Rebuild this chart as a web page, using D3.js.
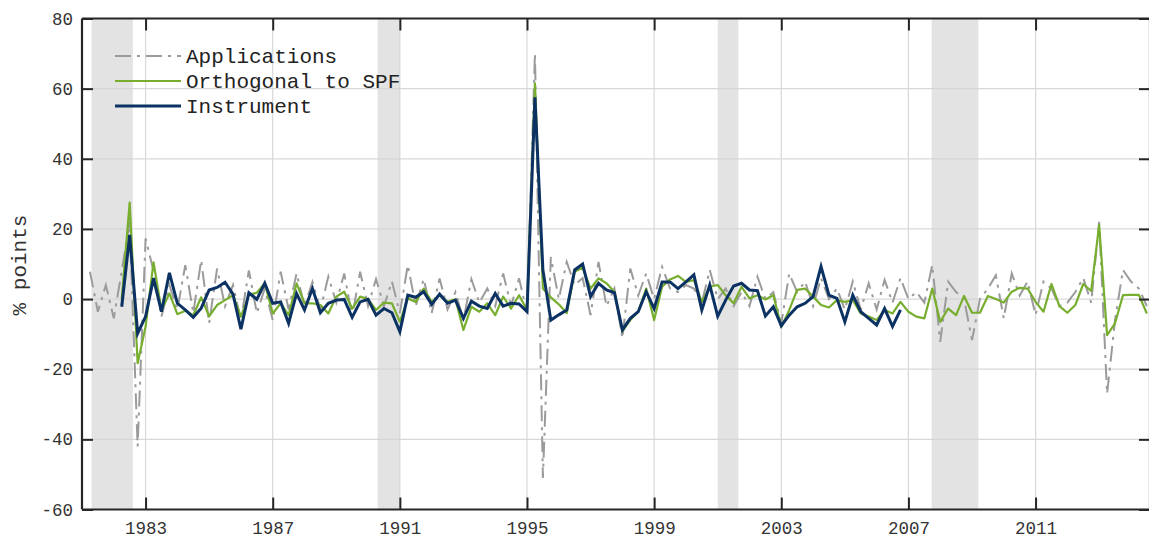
<!DOCTYPE html>
<html><head><meta charset="utf-8">
<script src="https://cdn.jsdelivr.net/npm/d3@7"></script>
<style>body{margin:0;background:#fff}svg{display:block}</style>
</head><body>
<svg id="chart" width="1149" height="536"></svg>
<script>
// ---- data (quarterly, first value at the given start year fraction) ----
const applicationsStart = 1981.25;
const applications = [7.8,-3.6,4,-5.5,8,22,-42,17.3,8,-5,4,-3,9.7,-4,11.1,-6.9,8.7,-2,4,-6,8.2,-4,3,-6,7.8,-3,7.3,-2,4.9,-3,6.4,-1,7.3,-5,7.8,-2,5.7,-2,5.0,-4,9.7,-2,5.7,-4,5.9,-3,2,-6,5.7,-1,3,-2,7.3,-2,5.9,-4,70,-51,12,0,10.6,4,6,-4.6,10.6,-2,3,-11.2,8.7,1,7.3,0,9.2,3,2,4,3,-1,8.3,0,3,-2,2,-2,6.4,0,2,-7,7.3,2,5,-2,6,0,3,-3,5,-3,4.5,-3,5.5,-1,6,0,2,-1,9.7,-12.2,5,2,0,-11.7,0,3,6.8,-5.5,7.3,1,5,-4.5,5,3,-2,-1,2,6,-1,22,-27,-6,8.3,5,3,-2];
const orthogonalStart = 1982.25;
const orthogonal = [0,27.5,-18.3,-7.9,10.5,-3.1,1.6,-4.3,-3.3,-4.6,0.5,-4.9,-1.7,-0.3,1.1,-5.0,1.2,1.8,4.5,-4.1,-1.2,-4.6,4.5,-1.2,-1.2,-1.7,-4.1,0.7,2.1,-2.7,0.7,0,-3.1,-1,-1.2,-6.5,0.2,-0.8,3,-0.8,1.1,-0.8,-0.1,-8.8,-2.2,-3.6,-1.2,-4.6,0.7,-2.7,1.1,-3.1,61.5,3,0.5,-1.5,-4,7.8,9,3,5.9,4.5,2.1,-9.2,-6,-3.6,3,-6,3.5,5.6,6.6,4.9,5.4,-0.8,3.5,4,1.1,-1.2,3.5,0.2,1.1,-0.1,1.1,-8,-3.1,2.6,3,0.7,-1.7,-2.4,-0.3,-0.8,-0.3,-4.1,-5,-6,-3.1,-4.1,-0.8,-3.6,-5,-5.5,3,-6.5,-2.7,-4.6,0.9,-3.9,-3.9,0.9,0,-1,2.1,3.2,3,-0.8,-3.6,4.3,-2,-3.9,-1.7,4.3,2.3,21.1,-10.3,-6.9,1.1,1.2,1.2,-4.1];
const instrumentStart = 1982.25;
const instrument = [-2.2,18.3,-9.8,-5.0,5.9,-3.6,7.5,-1.2,-3.1,-5.2,-2.6,2.6,3.3,4.8,1.4,-8.6,1.8,-0.1,4.5,-1.2,-0.8,-6.9,1.6,-3.1,3.0,-3.9,-1.2,-0.3,-0.1,-5.2,-0.8,-0.1,-4.6,-2.7,-3.9,-9.3,1.1,0.5,2.1,-1.5,1.4,-1.2,-0.3,-5.5,-0.6,-2,-2.7,1.6,-2,-1.2,-1.4,-3.6,57.5,8.3,-6,-4.5,-3.1,8.3,10,0.7,4.5,2.6,1.8,-8.8,-5.5,-3.6,2.1,-2.7,4.9,4.9,3.0,4.9,6.9,-3.1,4,-4.9,-0.3,3.7,4.5,2.6,2.4,-4.8,-2.2,-7.6,-4.6,-2.2,-1.2,0.7,9.3,1.1,0.2,-6.5,1.1,-3.6,-5.5,-7.4,-2.7,-7.8,-3.1];
const recessions = [[1981.3,1982.6],[1990.3,1991.0],[2001.0,2001.65],[2007.73,2009.2]];
const xTicks = [1983,1987,1991,1995,1999,2003,2007,2011];
const yTicks = [-60,-40,-20,0,20,40,60,80];
const seriesNames = ["Applications","Orthogonal to SPF","Instrument"];

const toPts = (start, arr) => arr.map((v,i)=>({t:start+i/4, v}));

const svg = d3.select("#chart");
const L=82, R=1150, T=18.5, B=509.5;
const x = d3.scaleLinear().domain([1981,2014.6]).range([L,R]);
const y = d3.scaleLinear().domain([-60,80]).range([B,T]);
const font = "'Liberation Mono','DejaVu Sans Mono',monospace";

// recession shading
svg.append("g").selectAll("rect").data(recessions).join("rect")
  .attr("x",d=>x(d[0])).attr("width",d=>x(d[1])-x(d[0]))
  .attr("y",T).attr("height",B-T).attr("fill","#e3e3e3");

// grid
const grid = svg.append("g").attr("stroke","#d4d4d4").attr("stroke-width",1.2).attr("opacity",0.9);
grid.selectAll(".gx").data(xTicks).join("line").attr("x1",d=>x(d)).attr("x2",d=>x(d)).attr("y1",T).attr("y2",B);
grid.selectAll(".gy").data(yTicks).join("line").attr("x1",L).attr("x2",R).attr("y1",d=>y(d)).attr("y2",d=>y(d));

// lines
const line = d3.line().x(d=>x(d.t)).y(d=>y(d.v));
svg.append("path").datum(toPts(applicationsStart,applications)).attr("d",line)
  .attr("fill","none").attr("stroke","#9b9b9b").attr("stroke-width",2).attr("stroke-dasharray","16,6,3,6");
svg.append("path").datum(toPts(orthogonalStart,orthogonal)).attr("d",line)
  .attr("fill","none").attr("stroke","#78ae2f").attr("stroke-width",2.2).attr("stroke-linejoin","round");
svg.append("path").datum(toPts(instrumentStart,instrument)).attr("d",line)
  .attr("fill","none").attr("stroke","#0b3262").attr("stroke-width",3).attr("stroke-linejoin","miter");

// axes (ticks inward)
const axColor="#262626";
const axL = svg.append("g").attr("transform",`translate(${L},0)`)
  .call(d3.axisLeft(y).tickValues(yTicks).tickSize(-11).tickPadding(9).tickFormat(d=>String(d)));
const axR = svg.append("g").attr("transform",`translate(${R},0)`)
  .call(d3.axisRight(y).tickValues(yTicks).tickSize(-11).tickFormat(""));
const axB = svg.append("g").attr("transform",`translate(0,${B})`)
  .call(d3.axisBottom(x).tickValues(xTicks).tickSize(-12).tickPadding(12).tickFormat(d3.format("d")));
const axT = svg.append("g").attr("transform",`translate(0,${T})`)
  .call(d3.axisTop(x).tickValues(xTicks).tickSize(-12).tickFormat(""));
[axL,axR,axB,axT].forEach(g=>{
  g.select(".domain").attr("stroke",axColor).attr("stroke-width",2.2);
  g.selectAll(".tick line").attr("stroke",axColor).attr("stroke-width",2);
  g.selectAll("text").attr("font-family",font).attr("font-size","17.5px").attr("fill","#333");
});
axL.select(".domain").attr("d",`M0,${T}V${B}`);
axR.select(".domain").attr("d",`M0,${T}V${B}`);
axB.select(".domain").attr("d",`M${L},0H${R}`);
axT.select(".domain").attr("d",`M${L},0H${R}`);

// y label
svg.append("text").attr("transform","translate(26,265) rotate(-90)")
  .attr("text-anchor","middle").attr("font-family",font).attr("font-size","21px").attr("fill","#333")
  .text("% points");

// legend
const leg = svg.append("g");
const styles = [
  {stroke:"#9b9b9b",w:2,dash:"16,6,3,6"},
  {stroke:"#78ae2f",w:2.2,dash:null},
  {stroke:"#0b3262",w:3,dash:null}
];
seriesNames.forEach((n,i)=>{
  const yy = 56 + i*25;
  leg.append("line").attr("x1",115).attr("x2",181).attr("y1",yy).attr("y2",yy)
    .attr("stroke",styles[i].stroke).attr("stroke-width",styles[i].w).attr("stroke-dasharray",styles[i].dash);
  leg.append("text").attr("x",186).attr("y",yy).attr("dy","0.32em")
    .attr("font-family",font).attr("font-size","21px").attr("fill","#222").text(n);
});
</script>
</body></html>
